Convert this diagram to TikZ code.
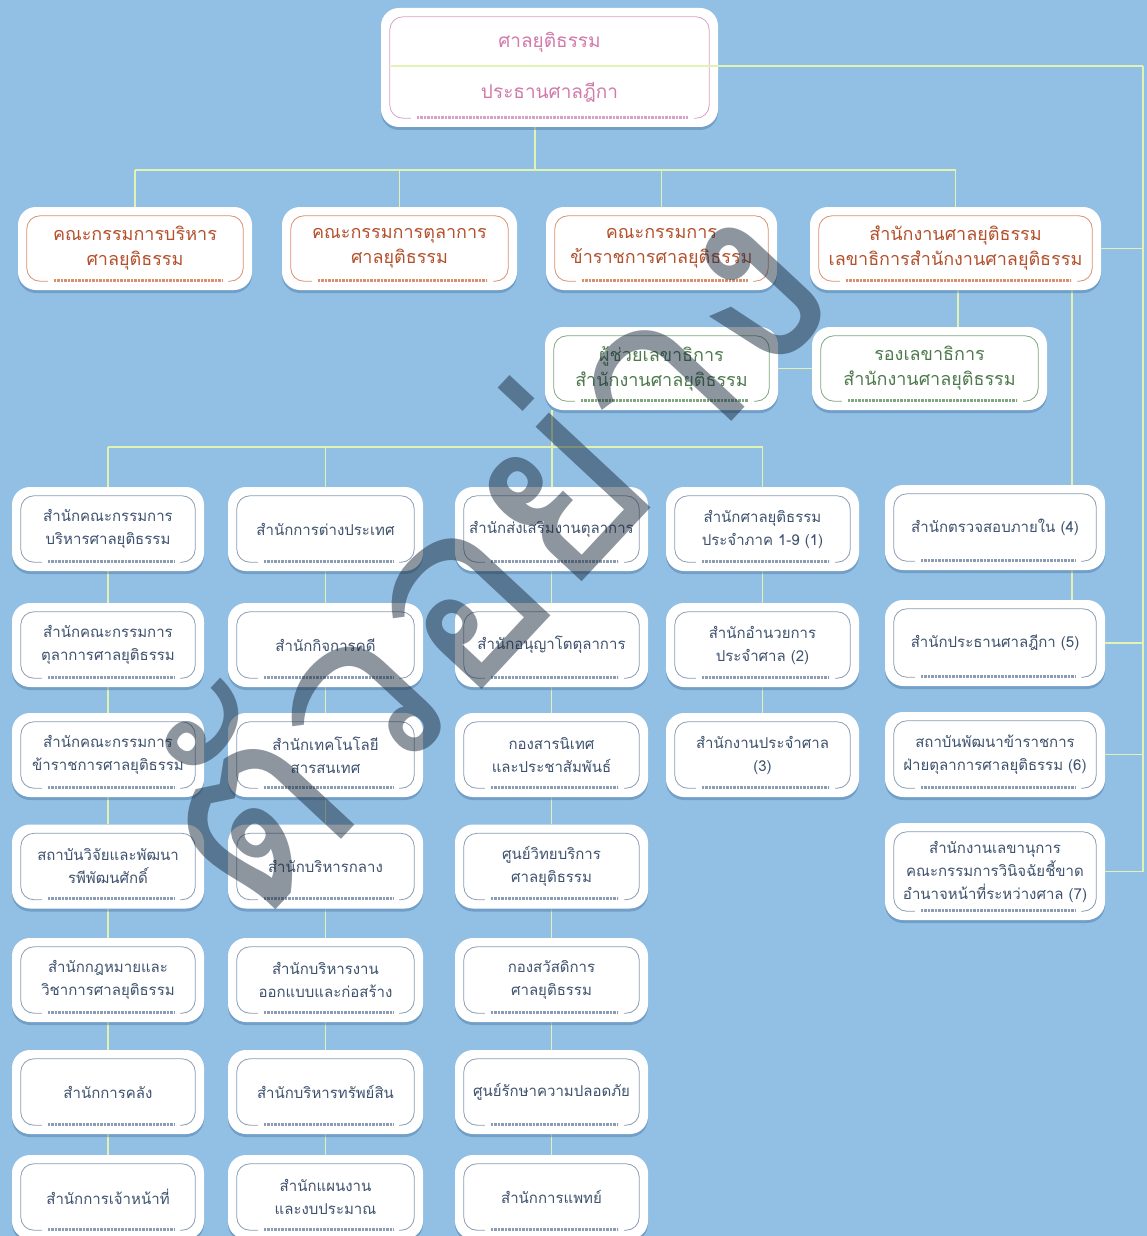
\documentclass[tikz,border=0pt]{standalone}
\usepackage{fontspec}
\newfontfamily\thai[Script=Thai]{Loma}
\usetikzlibrary{shadows,calc}
\definecolor{bgblue}{HTML}{92C0E4}
\definecolor{conn}{HTML}{E2F2B2}
\definecolor{shad}{HTML}{4A78A6}
\definecolor{pinkT}{HTML}{D27AAA}
\definecolor{pinkL}{HTML}{D8A2C2}
\definecolor{brownT}{HTML}{B4502C}
\definecolor{brownL}{HTML}{D99070}
\definecolor{greenT}{HTML}{4D7A4D}
\definecolor{greenL}{HTML}{7FA67F}
\definecolor{blueT}{HTML}{3E526E}
\definecolor{blueL}{HTML}{8C9CB2}
\definecolor{wmark}{HTML}{1C2D40}
\pgfdeclarelayer{bg}\pgfdeclarelayer{fg}
\pgfsetlayers{bg,main,fg}
\tikzset{
  box/.style={fill=white, rounded corners=18pt, align=center, inner sep=0pt,
    drop shadow={shadow xshift=0pt, shadow yshift=-3pt, fill=shad, opacity=0.45}},
  conline/.style={draw=conn, line width=1.6pt},
  fsmall/.style={font=\thai\fontsize{15}{23}\selectfont},
  fbig/.style={font=\thai\fontsize{18}{25}\selectfont},
  wmtext/.style={rotate=47, text=wmark, inner sep=0pt,
        font=\thai\fontsize{250}{250}\selectfont},
}
% name, (cx,cy), w, h, text colour, line colour, font style, text
\newcommand\ob[8]{%
  \node[box, minimum width=#3pt, minimum height=#4pt, text=#5, #7] (#1) at #2 {#8};
  \draw[#6, line width=0.8pt, rounded corners=13pt]
    ($(#1.south west)+(30,-9)$) -| ($(#1.north west)+(9,9)$)
    -| ($(#1.south east)+(-9,-9)$) -- ($(#1.south east)+(-24,-9)$);
  \draw[#6, line width=3pt, dash pattern=on 0.5pt off 0.9pt]
    ($(#1.south west)+(36,-10)$) -- ($(#1.south east)+(-30,-10)$);
}
\begin{document}
\begin{tikzpicture}[x=1pt,y=-1pt]
\useasboundingbox (0,0) rectangle (1147,1236);
\begin{pgfonlayer}{bg}
  \fill[bgblue] (0,0) rectangle (1147,1236);
\end{pgfonlayer}

% top
\ob{top}{(549.5,67.5)}{337}{119}{pinkT}{pinkL}{font=\thai\fontsize{19}{51}\selectfont}{ศาลยุติธรรม\\ประธานศาลฎีกา}
% row 2
\ob{b1}{(135,248.5)}{234}{83}{brownT}{brownL}{fbig}{คณะกรรมการบริหาร\\ศาลยุติธรรม}
\ob{b2}{(399.5,248.5)}{235}{83}{brownT}{brownL}{fbig}{คณะกรรมการตุลาการ\\ศาลยุติธรรม}
\ob{b3}{(661.5,248.5)}{231}{83}{brownT}{brownL}{fbig}{คณะกรรมการ\\ข้าราชการศาลยุติธรรม}
\ob{b4}{(955.5,248.5)}{291}{83}{brownT}{brownL}{fbig}{สำนักงานศาลยุติธรรม\\เลขาธิการสำนักงานศาลยุติธรรม}
% row 3
\ob{ast}{(661.5,368.5)}{233}{83}{greenT}{greenL}{fbig}{ผู้ช่วยเลขาธิการ\\สำนักงานศาลยุติธรรม}
\ob{rong}{(929.5,368.5)}{235}{83}{greenT}{greenL}{fbig}{รองเลขาธิการ\\สำนักงานศาลยุติธรรม}

% column 1
\ob{c1a}{(108,529)}{192}{84}{blueT}{blueL}{fsmall}{สำนักคณะกรรมการ\\บริหารศาลยุติธรรม}
\ob{c1b}{(108,645)}{192}{84}{blueT}{blueL}{fsmall}{สำนักคณะกรรมการ\\ตุลาการศาลยุติธรรม}
\ob{c1c}{(108,755)}{192}{84}{blueT}{blueL}{fsmall}{สำนักคณะกรรมการ\\ข้าราชการศาลยุติธรรม}
\ob{c1d}{(108,866.5)}{192}{84}{blueT}{blueL}{fsmall}{สถาบันวิจัยและพัฒนา\\รพีพัฒนศักดิ์}
\ob{c1e}{(108,980)}{192}{84}{blueT}{blueL}{fsmall}{สำนักกฎหมายและ\\วิชาการศาลยุติธรรม}
\ob{c1f}{(108,1092)}{192}{84}{blueT}{blueL}{fsmall}{สำนักการคลัง}
\ob{c1g}{(108,1197)}{192}{84}{blueT}{blueL}{fsmall}{สำนักการเจ้าหน้าที่}
% column 2
\ob{c2a}{(325.5,529)}{195}{84}{blueT}{blueL}{fsmall}{สำนักการต่างประเทศ}
\ob{c2b}{(325.5,645)}{195}{84}{blueT}{blueL}{fsmall}{สำนักกิจการคดี}
\ob{c2c}{(325.5,755)}{195}{84}{blueT}{blueL}{fsmall}{สำนักเทคโนโลยี\\สารสนเทศ}
\ob{c2d}{(325.5,866.5)}{195}{84}{blueT}{blueL}{fsmall}{สำนักบริหารกลาง}
\ob{c2e}{(325.5,980)}{195}{84}{blueT}{blueL}{fsmall}{สำนักบริหารงาน\\ออกแบบและก่อสร้าง}
\ob{c2f}{(325.5,1092)}{195}{84}{blueT}{blueL}{fsmall}{สำนักบริหารทรัพย์สิน}
\ob{c2g}{(325.5,1197)}{195}{84}{blueT}{blueL}{fsmall}{สำนักแผนงาน\\และงบประมาณ}
% column 3
\ob{c3a}{(551.5,529)}{193}{84}{blueT}{blueL}{fsmall}{สำนักส่งเสริมงานตุลาการ}
\ob{c3b}{(551.5,645)}{193}{84}{blueT}{blueL}{fsmall}{สำนักอนุญาโตตุลาการ}
\ob{c3c}{(551.5,755)}{193}{84}{blueT}{blueL}{fsmall}{กองสารนิเทศ\\และประชาสัมพันธ์}
\ob{c3d}{(551.5,866.5)}{193}{84}{blueT}{blueL}{fsmall}{ศูนย์วิทยบริการ\\ศาลยุติธรรม}
\ob{c3e}{(551.5,980)}{193}{84}{blueT}{blueL}{fsmall}{กองสวัสดิการ\\ศาลยุติธรรม}
\ob{c3f}{(551.5,1092)}{193}{84}{blueT}{blueL}{fsmall}{ศูนย์รักษาความปลอดภัย}
\ob{c3g}{(551.5,1197)}{193}{84}{blueT}{blueL}{fsmall}{สำนักการแพทย์}
% column 4
\ob{c4a}{(762.5,529)}{193}{84}{blueT}{blueL}{fsmall}{สำนักศาลยุติธรรม\\ประจำภาค 1-9 (1)}
\ob{c4b}{(762.5,645)}{193}{84}{blueT}{blueL}{fsmall}{สำนักอำนวยการ\\ประจำศาล (2)}
\ob{c4c}{(762.5,755)}{193}{84}{blueT}{blueL}{fsmall}{สำนักงานประจำศาล\\(3)}
% column 5
\ob{s4}{(995,527.5)}{220}{85}{blueT}{blueL}{fsmall}{สำนักตรวจสอบภายใน (4)}
\ob{s5}{(995,643)}{220}{86}{blueT}{blueL}{fsmall}{สำนักประธานศาลฎีกา (5)}
\ob{s6}{(995,754.5)}{220}{85}{blueT}{blueL}{fsmall}{สถาบันพัฒนาข้าราชการ\\ฝ่ายตุลาการศาลยุติธรรม (6)}
\ob{s7}{(995,871.5)}{220}{97}{blueT}{blueL}{fsmall}{สำนักงานเลขานุการ\\คณะกรรมการวินิจฉัยชี้ขาด\\อำนาจหน้าที่ระหว่างศาล (7)}

\coordinate (j0) at (535,170);
\coordinate (j1) at (552,447);
\coordinate (r0) at (1143,66);

\begin{pgfonlayer}{bg}
  % top to row 2
  \draw[conline] (top.south -| j0) -- (j0);
  \draw[conline] (j0 -| b1) -- (j0 -| b4);
  \foreach \n in {b1,b2,b3,b4} \draw[conline] (j0 -| \n) -- (\n.north);
  % right bus
  \draw[conline] (r0) -- (r0 |- s7.east);
  \foreach \n in {b4,s5,s6,s7} \draw[conline] (\n.east) -- (\n.east -| r0);
  % office to deputies
  \draw[conline] ([xshift=2.5pt]b4.south) -- ([xshift=2.5pt]b4.south |- rong.north);
  \draw[conline] (ast.east) -- (rong.west);
  % office to internal audit column
  \draw[conline] ([xshift=116.5pt]b4.south) -- ([xshift=116.5pt]b4.south |- s4.north);
  \draw[conline] ([xshift=77pt]s4.south) -- ([xshift=77pt]s4.south |- s5.north);
  % assistant to lower bus
  \draw[conline] (ast.south -| j1) -- (j1 |- c3a.north);
  \draw[conline] (j1 -| c1a) -- (j1 -| c4a);
  \foreach \n in {c1a,c2a,c4a} \draw[conline] (j1 -| \n) -- (\n.north);
  % column chains
  \foreach \c in {c1,c2,c3}{
    \foreach \u/\v in {a/b,b/c,c/d,d/e,e/f,f/g}
      \draw[conline] (\c\u.south) -- (\c\v.north);
  }
  \draw[conline] (c4a.south) -- (c4b.north);
  \draw[conline] (c4b.south) -- (c4c.north);
\end{pgfonlayer}

% divider inside top box, running out to the right bus
\draw[conline] ($(top.west)+(10,-1.5)$) -- (r0);

% watermark
\begin{pgfonlayer}{fg}
  \node[wmtext, opacity=0.5] (wm) at (478,548) {ตัวอย่าง};
\end{pgfonlayer}
\end{tikzpicture}
\end{document}
